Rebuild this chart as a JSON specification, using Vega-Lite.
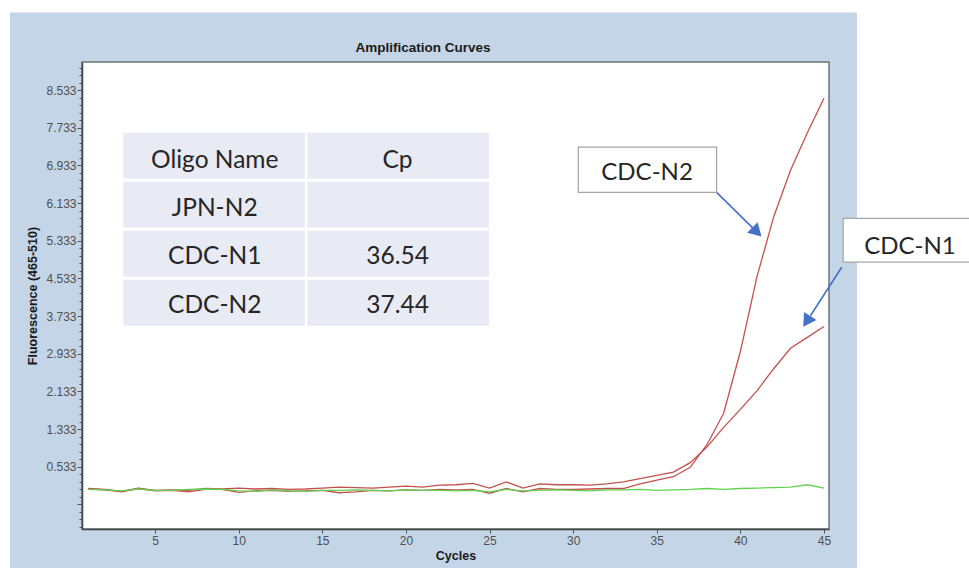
{
  "$schema": "https://vega.github.io/schema/vega-lite/v6.json",
  "width": 747,
  "height": 467,
  "autosize": "none",
  "padding": {"left": 82, "top": 62, "right": 140, "bottom": 39},
  "background": "#c3d5e6",
  "config": {"view": {"fill": "white", "stroke": "#6e7378", "strokeWidth": 1.5}},
  "datasets": {
    "curves": [
      {"series": "CDC-N1", "cycle": 1, "fluor": 0.07}, {"series": "CDC-N1", "cycle": 2, "fluor": 0.05}, {"series": "CDC-N1", "cycle": 3, "fluor": 0.01}, {"series": "CDC-N1", "cycle": 4, "fluor": 0.08}, {"series": "CDC-N1", "cycle": 5, "fluor": 0.03},
      {"series": "CDC-N1", "cycle": 6, "fluor": 0.04}, {"series": "CDC-N1", "cycle": 7, "fluor": 0.03}, {"series": "CDC-N1", "cycle": 8, "fluor": 0.07}, {"series": "CDC-N1", "cycle": 9, "fluor": 0.06}, {"series": "CDC-N1", "cycle": 10, "fluor": 0.08},
      {"series": "CDC-N1", "cycle": 11, "fluor": 0.06}, {"series": "CDC-N1", "cycle": 12, "fluor": 0.07}, {"series": "CDC-N1", "cycle": 13, "fluor": 0.05}, {"series": "CDC-N1", "cycle": 14, "fluor": 0.06}, {"series": "CDC-N1", "cycle": 15, "fluor": 0.08},
      {"series": "CDC-N1", "cycle": 16, "fluor": 0.10}, {"series": "CDC-N1", "cycle": 17, "fluor": 0.09}, {"series": "CDC-N1", "cycle": 18, "fluor": 0.08}, {"series": "CDC-N1", "cycle": 19, "fluor": 0.10}, {"series": "CDC-N1", "cycle": 20, "fluor": 0.12},
      {"series": "CDC-N1", "cycle": 21, "fluor": 0.10}, {"series": "CDC-N1", "cycle": 22, "fluor": 0.14}, {"series": "CDC-N1", "cycle": 23, "fluor": 0.15}, {"series": "CDC-N1", "cycle": 24, "fluor": 0.18}, {"series": "CDC-N1", "cycle": 25, "fluor": 0.08},
      {"series": "CDC-N1", "cycle": 26, "fluor": 0.21}, {"series": "CDC-N1", "cycle": 27, "fluor": 0.08}, {"series": "CDC-N1", "cycle": 28, "fluor": 0.17}, {"series": "CDC-N1", "cycle": 29, "fluor": 0.15}, {"series": "CDC-N1", "cycle": 30, "fluor": 0.15},
      {"series": "CDC-N1", "cycle": 31, "fluor": 0.14}, {"series": "CDC-N1", "cycle": 32, "fluor": 0.17}, {"series": "CDC-N1", "cycle": 33, "fluor": 0.21}, {"series": "CDC-N1", "cycle": 34, "fluor": 0.28}, {"series": "CDC-N1", "cycle": 35, "fluor": 0.35},
      {"series": "CDC-N1", "cycle": 36, "fluor": 0.42}, {"series": "CDC-N1", "cycle": 37, "fluor": 0.62}, {"series": "CDC-N1", "cycle": 38, "fluor": 0.95}, {"series": "CDC-N1", "cycle": 39, "fluor": 1.37}, {"series": "CDC-N1", "cycle": 40, "fluor": 1.75},
      {"series": "CDC-N1", "cycle": 41, "fluor": 2.15}, {"series": "CDC-N1", "cycle": 42, "fluor": 2.62}, {"series": "CDC-N1", "cycle": 43, "fluor": 3.05}, {"series": "CDC-N1", "cycle": 44, "fluor": 3.28}, {"series": "CDC-N1", "cycle": 45, "fluor": 3.51},
      {"series": "CDC-N2", "cycle": 1, "fluor": 0.06}, {"series": "CDC-N2", "cycle": 2, "fluor": 0.04}, {"series": "CDC-N2", "cycle": 3, "fluor": 0.00}, {"series": "CDC-N2", "cycle": 4, "fluor": 0.07}, {"series": "CDC-N2", "cycle": 5, "fluor": 0.02},
      {"series": "CDC-N2", "cycle": 6, "fluor": 0.03}, {"series": "CDC-N2", "cycle": 7, "fluor": 0.00}, {"series": "CDC-N2", "cycle": 8, "fluor": 0.05}, {"series": "CDC-N2", "cycle": 9, "fluor": 0.05}, {"series": "CDC-N2", "cycle": 10, "fluor": -0.01},
      {"series": "CDC-N2", "cycle": 11, "fluor": 0.02}, {"series": "CDC-N2", "cycle": 12, "fluor": 0.03}, {"series": "CDC-N2", "cycle": 13, "fluor": 0.01}, {"series": "CDC-N2", "cycle": 14, "fluor": 0.02}, {"series": "CDC-N2", "cycle": 15, "fluor": 0.03},
      {"series": "CDC-N2", "cycle": 16, "fluor": -0.02}, {"series": "CDC-N2", "cycle": 17, "fluor": 0.00}, {"series": "CDC-N2", "cycle": 18, "fluor": 0.03}, {"series": "CDC-N2", "cycle": 19, "fluor": 0.02}, {"series": "CDC-N2", "cycle": 20, "fluor": 0.04},
      {"series": "CDC-N2", "cycle": 21, "fluor": 0.03}, {"series": "CDC-N2", "cycle": 22, "fluor": 0.05}, {"series": "CDC-N2", "cycle": 23, "fluor": 0.04}, {"series": "CDC-N2", "cycle": 24, "fluor": 0.05}, {"series": "CDC-N2", "cycle": 25, "fluor": -0.03},
      {"series": "CDC-N2", "cycle": 26, "fluor": 0.07}, {"series": "CDC-N2", "cycle": 27, "fluor": 0.00}, {"series": "CDC-N2", "cycle": 28, "fluor": 0.07}, {"series": "CDC-N2", "cycle": 29, "fluor": 0.05}, {"series": "CDC-N2", "cycle": 30, "fluor": 0.05},
      {"series": "CDC-N2", "cycle": 31, "fluor": 0.06}, {"series": "CDC-N2", "cycle": 32, "fluor": 0.07}, {"series": "CDC-N2", "cycle": 33, "fluor": 0.07}, {"series": "CDC-N2", "cycle": 34, "fluor": 0.17}, {"series": "CDC-N2", "cycle": 35, "fluor": 0.25},
      {"series": "CDC-N2", "cycle": 36, "fluor": 0.32}, {"series": "CDC-N2", "cycle": 37, "fluor": 0.52}, {"series": "CDC-N2", "cycle": 38, "fluor": 1.00}, {"series": "CDC-N2", "cycle": 39, "fluor": 1.67}, {"series": "CDC-N2", "cycle": 40, "fluor": 2.98},
      {"series": "CDC-N2", "cycle": 41, "fluor": 4.58}, {"series": "CDC-N2", "cycle": 42, "fluor": 5.85}, {"series": "CDC-N2", "cycle": 43, "fluor": 6.83}, {"series": "CDC-N2", "cycle": 44, "fluor": 7.62}, {"series": "CDC-N2", "cycle": 45, "fluor": 8.36},
      {"series": "JPN-N2", "cycle": 1, "fluor": 0.05}, {"series": "JPN-N2", "cycle": 2, "fluor": 0.04}, {"series": "JPN-N2", "cycle": 3, "fluor": 0.02}, {"series": "JPN-N2", "cycle": 4, "fluor": 0.06}, {"series": "JPN-N2", "cycle": 5, "fluor": 0.03},
      {"series": "JPN-N2", "cycle": 6, "fluor": 0.03}, {"series": "JPN-N2", "cycle": 7, "fluor": 0.05}, {"series": "JPN-N2", "cycle": 8, "fluor": 0.06}, {"series": "JPN-N2", "cycle": 9, "fluor": 0.05}, {"series": "JPN-N2", "cycle": 10, "fluor": 0.02},
      {"series": "JPN-N2", "cycle": 11, "fluor": 0.01}, {"series": "JPN-N2", "cycle": 12, "fluor": 0.04}, {"series": "JPN-N2", "cycle": 13, "fluor": 0.02}, {"series": "JPN-N2", "cycle": 14, "fluor": 0.01}, {"series": "JPN-N2", "cycle": 15, "fluor": 0.03},
      {"series": "JPN-N2", "cycle": 16, "fluor": 0.03}, {"series": "JPN-N2", "cycle": 17, "fluor": 0.04}, {"series": "JPN-N2", "cycle": 18, "fluor": 0.03}, {"series": "JPN-N2", "cycle": 19, "fluor": 0.02}, {"series": "JPN-N2", "cycle": 20, "fluor": 0.04},
      {"series": "JPN-N2", "cycle": 21, "fluor": 0.03}, {"series": "JPN-N2", "cycle": 22, "fluor": 0.03}, {"series": "JPN-N2", "cycle": 23, "fluor": 0.02}, {"series": "JPN-N2", "cycle": 24, "fluor": 0.03}, {"series": "JPN-N2", "cycle": 25, "fluor": 0.00},
      {"series": "JPN-N2", "cycle": 26, "fluor": 0.05}, {"series": "JPN-N2", "cycle": 27, "fluor": 0.02}, {"series": "JPN-N2", "cycle": 28, "fluor": 0.03}, {"series": "JPN-N2", "cycle": 29, "fluor": 0.04}, {"series": "JPN-N2", "cycle": 30, "fluor": 0.03},
      {"series": "JPN-N2", "cycle": 31, "fluor": 0.02}, {"series": "JPN-N2", "cycle": 32, "fluor": 0.04}, {"series": "JPN-N2", "cycle": 33, "fluor": 0.04}, {"series": "JPN-N2", "cycle": 34, "fluor": 0.05}, {"series": "JPN-N2", "cycle": 35, "fluor": 0.03},
      {"series": "JPN-N2", "cycle": 36, "fluor": 0.04}, {"series": "JPN-N2", "cycle": 37, "fluor": 0.05}, {"series": "JPN-N2", "cycle": 38, "fluor": 0.07}, {"series": "JPN-N2", "cycle": 39, "fluor": 0.05}, {"series": "JPN-N2", "cycle": 40, "fluor": 0.07},
      {"series": "JPN-N2", "cycle": 41, "fluor": 0.08}, {"series": "JPN-N2", "cycle": 42, "fluor": 0.09}, {"series": "JPN-N2", "cycle": 43, "fluor": 0.10}, {"series": "JPN-N2", "cycle": 44, "fluor": 0.15}, {"series": "JPN-N2", "cycle": 45, "fluor": 0.08}
    ],
    "cells": [
      {"row": 1, "column": "name", "label": "Oligo Name"}, {"row": 1, "column": "cp", "label": "Cp"},
      {"row": 2, "column": "name", "label": "JPN-N2"}, {"row": 2, "column": "cp", "label": ""},
      {"row": 3, "column": "name", "label": "CDC-N1"}, {"row": 3, "column": "cp", "label": "36.54"},
      {"row": 4, "column": "name", "label": "CDC-N2"}, {"row": 4, "column": "cp", "label": "37.44"}
    ],
    "callouts": [
      {"label": "CDC-N2", "bx": 30.31, "bx2": 38.58, "by": 7.32, "by2": 6.36, "tx": 34.42, "ty": 6.77, "ax": 38.58, "ay": 6.36, "ax2": 40.75, "ay2": 5.60, "hx": 40.99, "hy": 5.52},
      {"label": "CDC-N1", "bx": 46.15, "bx2": 54.03, "by": 5.81, "by2": 4.88, "tx": 50.14, "ty": 5.20, "ax": 46.06, "ay": 4.77, "ax2": 44.19, "ay2": 3.74, "hx": 43.97, "hy": 3.62}
    ]
  },
  "layer": [
    {
      "data": {"values": [{"strip": "top"}]},
      "mark": {"type": "rect", "fill": "white", "clip": false},
      "encoding": {
        "x": {"datum": -10, "type": "quantitative", "scale": {"domain": [0.63, 45.3], "nice": false, "zero": false}, "axis": null},
        "x2": {"datum": 60},
        "y": {"datum": 12, "type": "quantitative", "scale": {"domain": [-0.79, 9.13], "nice": false, "zero": false}, "axis": null},
        "y2": {"datum": 10.18}
      }
    },
    {
      "data": {"values": [{"strip": "left"}]},
      "mark": {"type": "rect", "fill": "white", "clip": false},
      "encoding": {
        "x": {"datum": -10, "type": "quantitative", "scale": {"domain": [0.63, 45.3], "nice": false, "zero": false}, "axis": null},
        "x2": {"datum": -3.675},
        "y": {"datum": 12, "type": "quantitative", "scale": {"domain": [-0.79, 9.13], "nice": false, "zero": false}, "axis": null},
        "y2": {"datum": -3}
      }
    },
    {
      "data": {"values": [{"strip": "right"}]},
      "mark": {"type": "rect", "fill": "white", "clip": false},
      "encoding": {
        "x": {"datum": 46.97, "type": "quantitative", "scale": {"domain": [0.63, 45.3], "nice": false, "zero": false}, "axis": null},
        "x2": {"datum": 60},
        "y": {"datum": 12, "type": "quantitative", "scale": {"domain": [-0.79, 9.13], "nice": false, "zero": false}, "axis": null},
        "y2": {"datum": -3}
      }
    },
    {
      "data": {"values": [{"title": "Amplification Curves"}]},
      "mark": {"type": "text", "font": "Liberation Sans", "fontSize": 13.5, "fontWeight": "bold", "color": "#1a1a1a", "align": "center", "baseline": "alphabetic", "clip": false},
      "encoding": {
        "x": {"datum": 21.02, "type": "quantitative", "scale": {"domain": [0.63, 45.3], "nice": false, "zero": false}, "axis": null},
        "y": {"datum": 9.349, "type": "quantitative", "scale": {"domain": [-0.79, 9.13], "nice": false, "zero": false}, "axis": null},
        "text": {"field": "title"}
      }
    },
    {
      "data": {"name": "curves"},
      "mark": {"type": "line", "strokeWidth": 1.3, "clip": true},
      "encoding": {
        "x": {
          "field": "cycle", "type": "quantitative",
          "scale": {"domain": [0.63, 45.3], "nice": false, "zero": false},
          "axis": {
            "values": [5, 10, 15, 20, 25, 30, 35, 40, 45],
            "title": "Cycles", "titleFont": "Liberation Sans", "titleFontSize": 12.5, "titleFontWeight": "bold", "titleColor": "#1a1a1a", "titlePadding": 3,
            "labelFont": "Liberation Sans", "labelFontSize": 12, "labelColor": "#505050", "labelPadding": 2,
            "tickSize": 4, "tickColor": "#555", "domainColor": "#444", "domainWidth": 1.5,
            "grid": false, "zindex": 1, "orient": "bottom"
          }
        },
        "y": {
          "field": "fluor", "type": "quantitative",
          "scale": {"domain": [-0.79, 9.13], "nice": false, "zero": false},
          "axis": {
            "values": [-0.747, -0.587, -0.427, -0.267, -0.107, 0.053, 0.213, 0.373, 0.533, 0.693, 0.853, 1.013, 1.173, 1.333, 1.493, 1.653, 1.813, 1.973, 2.133, 2.293, 2.453, 2.613, 2.773, 2.933, 3.093, 3.253, 3.413, 3.573, 3.733, 3.893, 4.053, 4.213, 4.373, 4.533, 4.693, 4.853, 5.013, 5.173, 5.333, 5.493, 5.653, 5.813, 5.973, 6.133, 6.293, 6.453, 6.613, 6.773, 6.933, 7.093, 7.253, 7.413, 7.573, 7.733, 7.893, 8.053, 8.213, 8.373, 8.533, 8.693, 8.853, 9.013],
            "labelExpr": "(abs(datum.value*1.25 - 0.66625 - round(datum.value*1.25 - 0.66625)) < 0.01 && datum.value > 0) ? format(datum.value, '.3f') : ''",
            "labelOverlap": false, "labelBound": false,
            "tickSize": {"condition": {"test": "abs(datum.value*1.25 - 0.66625 - round(datum.value*1.25 - 0.66625)) < 0.01", "value": 5}, "value": 3},
            "title": "Fluorescence (465-510)", "titleFont": "Liberation Sans", "titleFontSize": 12.5, "titleFontWeight": "bold", "titleColor": "#1a1a1a", "titlePadding": 6,
            "labelFont": "Liberation Sans", "labelFontSize": 12, "labelColor": "#505050", "labelPadding": 1,
            "tickColor": "#555", "domainColor": "#444", "domainWidth": 1.5,
            "grid": false, "zindex": 1, "orient": "left"
          }
        },
        "color": {
          "field": "series", "type": "nominal",
          "scale": {"domain": ["CDC-N1", "CDC-N2", "JPN-N2"], "range": ["#c4504f", "#c4504f", "#5fd34f"]},
          "legend": null
        },
        "detail": {"field": "series"}
      }
    },
    {
      "data": {"name": "callouts"},
      "mark": {"type": "rule", "color": "#4472c4", "strokeWidth": 1.6, "clip": false},
      "encoding": {
        "x": {"field": "ax", "type": "quantitative", "scale": {"domain": [0.63, 45.3], "nice": false, "zero": false}, "axis": null},
        "x2": {"field": "ax2"},
        "y": {"field": "ay", "type": "quantitative", "scale": {"domain": [-0.79, 9.13], "nice": false, "zero": false}, "axis": null},
        "y2": {"field": "ay2"}
      }
    },
    {
      "data": {"name": "callouts"},
      "transform": [{"filter": "datum.label == 'CDC-N2'"}],
      "mark": {"type": "point", "shape": "triangle-up", "filled": true, "color": "#4472c4", "size": 220, "angle": 135, "opacity": 1, "clip": false},
      "encoding": {
        "x": {"field": "hx", "type": "quantitative", "scale": {"domain": [0.63, 45.3], "nice": false, "zero": false}, "axis": null},
        "y": {"field": "hy", "type": "quantitative", "scale": {"domain": [-0.79, 9.13], "nice": false, "zero": false}, "axis": null}
      }
    },
    {
      "data": {"name": "callouts"},
      "transform": [{"filter": "datum.label == 'CDC-N1'"}],
      "mark": {"type": "point", "shape": "triangle-up", "filled": true, "color": "#4472c4", "size": 220, "angle": 213, "opacity": 1, "clip": false},
      "encoding": {
        "x": {"field": "hx", "type": "quantitative", "scale": {"domain": [0.63, 45.3], "nice": false, "zero": false}, "axis": null},
        "y": {"field": "hy", "type": "quantitative", "scale": {"domain": [-0.79, 9.13], "nice": false, "zero": false}, "axis": null}
      }
    },
    {
      "data": {"name": "callouts"},
      "mark": {"type": "rect", "fill": "white", "stroke": "#a6a6a6", "strokeWidth": 1.2, "clip": false},
      "encoding": {
        "x": {"field": "bx", "type": "quantitative", "scale": {"domain": [0.63, 45.3], "nice": false, "zero": false}, "axis": null},
        "x2": {"field": "bx2"},
        "y": {"field": "by", "type": "quantitative", "scale": {"domain": [-0.79, 9.13], "nice": false, "zero": false}, "axis": null},
        "y2": {"field": "by2"}
      }
    },
    {
      "data": {"name": "callouts"},
      "mark": {"type": "text", "font": "Lato", "fontSize": 24, "color": "#262626", "align": "center", "baseline": "middle", "clip": false},
      "encoding": {
        "x": {"field": "tx", "type": "quantitative", "scale": {"domain": [0.63, 45.3], "nice": false, "zero": false}, "axis": null},
        "y": {"field": "ty", "type": "quantitative", "scale": {"domain": [-0.79, 9.13], "nice": false, "zero": false}, "axis": null},
        "text": {"field": "label"}
      }
    },
    {
      "data": {"name": "cells"},
      "mark": {"type": "rect", "fill": "#e8eaf4"},
      "encoding": {
        "x": {"field": "column", "type": "nominal", "scale": {"domain": ["name", "cp"], "range": [41.3, 407], "paddingInner": 0.0125, "paddingOuter": 0}, "axis": null},
        "y": {"field": "row", "type": "ordinal", "scale": {"domain": [1, 2, 3, 4], "range": [70.7, 263.7], "paddingInner": 0.06, "paddingOuter": 0}, "axis": null}
      }
    },
    {
      "data": {"name": "cells"},
      "mark": {"type": "text", "font": "Lato", "fontSize": 24.5, "color": "#262626", "align": "center", "baseline": "middle", "dy": 4},
      "encoding": {
        "x": {"field": "column", "type": "nominal", "scale": {"domain": ["name", "cp"], "range": [41.3, 407], "paddingInner": 0.0125, "paddingOuter": 0}, "axis": null},
        "y": {"field": "row", "type": "ordinal", "scale": {"domain": [1, 2, 3, 4], "range": [70.7, 263.7], "paddingInner": 0.06, "paddingOuter": 0}, "axis": null},
        "text": {"field": "label"}
      }
    }
  ],
  "resolve": {"scale": {"x": "independent", "y": "independent"}}
}
